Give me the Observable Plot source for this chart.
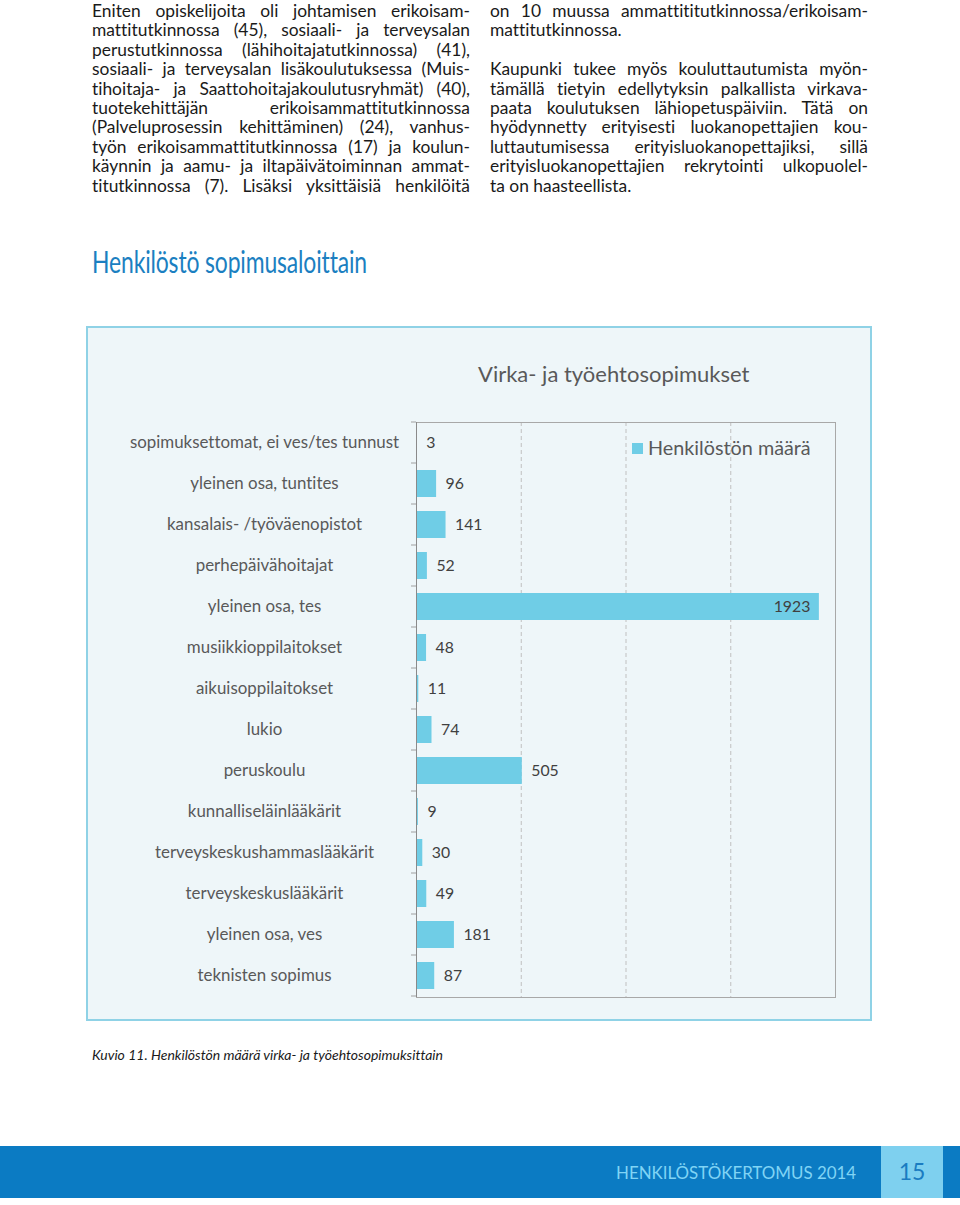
<!DOCTYPE html>
<html>
<head>
<meta charset="utf-8">
<script src="https://cdn.jsdelivr.net/npm/d3@7"></script>
<script src="https://cdn.jsdelivr.net/npm/@observablehq/plot@0.6"></script>
<style>
  html, body { margin: 0; padding: 0; background: #fff; }
  #page { position: relative; width: 960px; height: 1205px; overflow: hidden; font-family: Lato, "Open Sans", sans-serif; color: #1a1a1a; font-variant-ligatures: none; }
  .col { position: absolute; width: 378px; font-size: 17.4px; line-height: 19.4px; }
  .col div { text-align: justify; text-align-last: justify; height: 19.4px; overflow: visible; }
  .col div.last { text-align-last: left; }
  #heading { position: absolute; left: 92px; top: 243px; font-family: Lato, sans-serif; font-size: 30.5px; color: #1b7fc1; white-space: nowrap; transform-origin: left top; letter-spacing: -0.2px; }
  #box { position: absolute; left: 86px; top: 326px; width: 782px; height: 691px; border: 2px solid #8fd2e6; background: #eef6f9; }
  #chart { position: absolute; left: 86px; top: 326px; }
  #ctitle { position: absolute; left: 478px; top: 360px; font-family: Lato, sans-serif; font-size: 22px; color: #595959; white-space: nowrap; }
  #legend { position: absolute; left: 632px; top: 435px; font-family: Lato, sans-serif; font-size: 19.8px; color: #595959; white-space: nowrap; }
  #legend span.sw { display: inline-block; width: 11px; height: 11px; margin-right: 5px; vertical-align: 1px; }
  #caption { position: absolute; left: 92px; top: 1046px; font-family: Lato, sans-serif; font-style: italic; font-size: 14px; color: #1a1a1a; white-space: nowrap; }
  #footer { position: absolute; left: 0; top: 1146px; width: 960px; height: 52px; background: #0b7bc3; }
  #footer .light { position: absolute; left: 881px; top: 0; width: 62px; height: 52px; background: #7ed0ef; }
  #ftext { position: absolute; left: 616px; top: 1162px; font-family: Lato, "Open Sans", sans-serif; font-size: 16.9px; color: #80d4f5; white-space: nowrap; }
  #pnum { position: absolute; left: 881px; width: 62px; top: 1157px; text-align: center; font-family: Lato, "Open Sans", sans-serif; font-size: 23px; color: #1a7cc1; }
</style>
</head>
<body>
<div id="page">
  <div class="col" id="left" style="left:92px; top:1px;"></div>
  <div class="col" id="right" style="left:490px; top:1px;"></div>
  <div id="heading">Henkilöstö sopimusaloittain</div>
  <div id="box"></div>
  <div id="chart"></div>
  <div id="ctitle"></div>
  <div id="legend"></div>
  <div id="caption">Kuvio 11. Henkilöstön määrä virka- ja työehtosopimuksittain</div>
  <div id="footer"><div class="light"></div></div>
  <div id="ftext">HENKILÖSTÖKERTOMUS 2014</div>
  <div id="pnum">15</div>
</div>
<script>
// ---- data ----
const categories = [
  "sopimuksettomat, ei ves/tes tunnust",
  "yleinen osa, tuntites",
  "kansalais- /työväenopistot",
  "perhepäivähoitajat",
  "yleinen osa, tes",
  "musiikkioppilaitokset",
  "aikuisoppilaitokset",
  "lukio",
  "peruskoulu",
  "kunnalliseläinlääkärit",
  "terveyskeskushammaslääkärit",
  "terveyskeskuslääkärit",
  "yleinen osa, ves",
  "teknisten sopimus"
];
const values = [3, 96, 141, 52, 1923, 48, 11, 74, 505, 9, 30, 49, 181, 87];
const seriesName = "Henkilöstön määrä";
const chartTitle = "Virka- ja työehtosopimukset";
const gridTicks = [500, 1000, 1500];

const leftLines = [
  "Eniten opiskelijoita oli johtamisen erikoisam-",
  "mattitutkinnossa (45), sosiaali- ja terveysalan",
  "perustutkinnossa (lähihoitajatutkinnossa) (41),",
  "sosiaali- ja terveysalan lisäkoulutuksessa (Muis-",
  "tihoitaja- ja Saattohoitajakoulutusryhmät) (40),",
  "tuotekehittäjän erikoisammattitutkinnossa",
  "(Palveluprosessin kehittäminen) (24), vanhus-",
  "työn erikoisammattitutkinnossa (17) ja koulun-",
  "käynnin ja aamu- ja iltapäivätoiminnan ammat-",
  "titutkinnossa (7). Lisäksi yksittäisiä henkilöitä"
];
const rightLines = [
  "on 10 muussa ammattititutkinnossa/erikoisam-",
  "mattitutkinnossa.|last",
  "|last",
  "Kaupunki tukee myös kouluttautumista myön-",
  "tämällä tietyin edellytyksin palkallista virkava-",
  "paata koulutuksen lähiopetuspäiviin. Tätä on",
  "hyödynnetty erityisesti luokanopettajien kou-",
  "luttautumisessa erityisluokanopettajiksi, sillä",
  "erityisluokanopettajien rekrytointi ulkopuolel-",
  "ta on haasteellista.|last"
];

function fillCol(id, lines) {
  const el = document.getElementById(id);
  for (const l of lines) {
    const [t, cls] = l.split("|");
    const d = document.createElement("div");
    d.textContent = t || "\u00a0";
    if (cls) d.className = cls;
    el.appendChild(d);
  }
}
fillCol("left", leftLines);
fillCol("right", rightLines);

// condense heading to the reference width
(function () {
  const h = document.getElementById("heading");
  const w = h.getBoundingClientRect().width;
  h.style.transform = `scaleX(${275 / w})`;
})();

const barColor = "#6fcde6";
const rows = categories.map((c, i) => ({cat: c, value: values[i]}));

// tick marks at band boundaries (Excel style)
function boundaryTicks(index, scales, values, dimensions) {
  const y = scales.y;
  const g = d3.create("svg:g");
  const {marginLeft, marginTop, height, marginBottom} = dimensions;
  const step = y.step ? y.step() : (height - marginTop - marginBottom) / categories.length;
  const bw = y.bandwidth ? y.bandwidth() : step * 0.66;
  const ys = categories.map(c => y(c) - (step - bw) / 2);
  ys.push(ys[ys.length - 1] + step);
  for (const v of ys) {
    g.append("line")
      .attr("x1", marginLeft - 5).attr("x2", marginLeft)
      .attr("y1", v).attr("y2", v)
      .attr("stroke", "#a0a0a0");
  }
  return g.node();
}

const chart = Plot.plot({
  width: 786,
  height: 695,
  marginLeft: 330,
  marginRight: 37,
  marginTop: 96,
  marginBottom: 24,
  style: {background: "transparent", fontFamily: "Lato, sans-serif", fontSize: "15px", overflow: "visible"},
  x: {domain: [0, 2000], axis: null},
  y: {domain: categories, paddingInner: 0.34, paddingOuter: 0.17, axis: null},
  marks: [
    Plot.gridX({ticks: gridTicks, stroke: "#c0c0c0", strokeOpacity: 1, strokeDasharray: "4 3"}),
    Plot.frame({stroke: "#a8a8a8"}),
    Plot.barX(rows, {x: "value", y: "cat", fill: barColor}),
    Plot.ruleX([0], {stroke: "#8a8a8a"}),
    boundaryTicks,
    Plot.text(rows.filter(d => d.value < 1500), {x: "value", y: "cat", text: d => String(d.value), dx: 9, textAnchor: "start", fill: "#404040", fontSize: 15.8}),
    Plot.text(rows.filter(d => d.value >= 1500), {x: "value", y: "cat", text: d => String(d.value), dx: -9, textAnchor: "end", fill: "#404040", fontSize: 15.8}),
    Plot.text(rows, {y: "cat", text: "cat", frameAnchor: "left", dx: -152, textAnchor: "middle", fill: "#595959", fontSize: 16.9})
  ]
});

document.getElementById("chart").appendChild(chart);
document.getElementById("ctitle").textContent = chartTitle;
document.getElementById("legend").innerHTML = `<span class="sw" style="background:${barColor}"></span>${seriesName}`;
</script>
</body>
</html>
